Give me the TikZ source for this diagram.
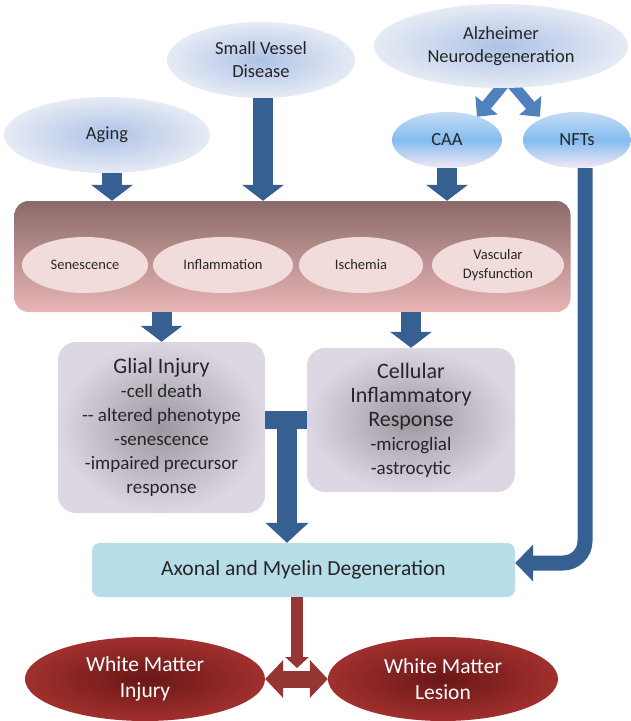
\documentclass[tikz,border=0pt]{standalone}
\usepackage{fontspec}
\setmainfont{Carlito}
\usetikzlibrary{arrows.meta,shapes.geometric}
\definecolor{arrowblue}{HTML}{376092}
\definecolor{chev}{HTML}{4F81BD}
\definecolor{topin}{HTML}{AEC2E6}
\definecolor{topout}{HTML}{E6EBF5}
\definecolor{capt}{HTML}{C5DCF5}
\definecolor{capm}{HTML}{84BCF0}
\definecolor{capb}{HTML}{F3E8F5}
\definecolor{proctop}{HTML}{8C6A6A}
\definecolor{procbot}{HTML}{E8B5B5}
\definecolor{pinkell}{HTML}{F2DCDB}
\definecolor{glin}{HTML}{9C96A0}
\definecolor{glout}{HTML}{DCD7E3}
\definecolor{axfill}{HTML}{B7DDE8}
\definecolor{wmred}{HTML}{963634}
\definecolor{wmin}{HTML}{6A1717}
\definecolor{wmout}{HTML}{A0302D}
\definecolor{textgray}{HTML}{262626}
\pgfdeclarelayer{bg}
\pgfsetlayers{bg,main}
\begin{document}
\begin{tikzpicture}[x=1pt,y=-1pt,
  topell/.style={ellipse, inner sep=0pt, inner color=topin, outer color=topout, text=textgray, align=center, font=\fontsize{18.5}{23}\selectfont},
  smallell/.style={ellipse, inner sep=0pt, top color=capt, bottom color=capb, middle color=capm, text=textgray, font=\fontsize{18.5}{23}\selectfont},
  procbox/.style={rectangle, rounded corners=14pt, top color=proctop, bottom color=procbot, inner sep=0pt},
  pinkellipse/.style={ellipse, inner sep=0pt, fill=pinkell, minimum height=56pt, text=textgray, align=center, font=\fontsize{14.5}{19}\selectfont},
  glbox/.style={rectangle, rounded corners=18pt, inner color=glin, outer color=glout, inner sep=0pt, text=textgray, align=center, font=\fontsize{19}{24}\selectfont},
  axbox/.style={rectangle, rounded corners=8pt, fill=axfill, inner sep=0pt, text=textgray, font=\fontsize{21.5}{26}\selectfont},
  wmell/.style={ellipse, inner sep=0pt, inner color=wmin, outer color=wmout, text=white, align=center, font=\fontsize{21.5}{26}\selectfont},
  barrow/.style={draw=arrowblue, line width=20pt, -{Triangle[width=41pt,length=16pt]}},
  rarrow/.style={draw=wmred, line width=12pt, -{Triangle[width=23pt,length=11pt]}}
]
\useasboundingbox (0,0) rectangle (630,721);

% top ellipses
\node[topell, minimum width=206pt, minimum height=76pt] (aging) at (107,135) {Aging};
\node[topell, minimum width=188pt, minimum height=76pt] (svd) at (261,60) {Small Vessel\\Disease};
\node[topell, minimum width=254pt, minimum height=84pt] (alz) at (501,46) {Alzheimer\\Neurodegeneration};
\node[smallell, minimum width=110pt, minimum height=56pt] (caa) at (447,140) {CAA};
\node[smallell, minimum width=108pt, minimum height=56pt] (nfts) at (577,140) {NFTs};

% process box
\node[procbox, minimum width=556pt, minimum height=111pt] (proc) at (292.5,256.5) {};
\node[pinkellipse, minimum width=126pt] (sen) at (85,265) {Senescence};
\node[pinkellipse, minimum width=140pt] (infl) at (223,265) {Inflammation};
\node[pinkellipse, minimum width=124pt] (isch) at (361,265) {Ischemia};
\node[pinkellipse, minimum width=132pt] (vasc) at (498,265) {Vascular\\Dysfunction};

% glial and cellular boxes
\node[glbox, minimum width=207pt, minimum height=171pt] (glial) at (161.5,427.5)
  {{\fontsize{22}{24}\selectfont Glial Injury}\\-cell death\\-{}- altered phenotype\\-senescence\\-impaired precursor\\response};
\node[glbox, minimum width=208pt, minimum height=144pt] (cell) at (411,420)
  {{\fontsize{22}{25}\selectfont Cellular}\\{\fontsize{22}{25}\selectfont Inflammatory}\\{\fontsize{22}{25}\selectfont Response}\\-microglial\\-astrocytic};

% axonal box
\node[axbox, minimum width=423pt, minimum height=54pt] (axon) at (303.5,570) {Axonal and Myelin Degeneration};

% white matter ellipses
\node[wmell, minimum width=240pt, minimum height=84pt] (wmi) at (145,679) {White Matter\\Injury};
\node[wmell, minimum width=230pt, minimum height=84pt] (wml) at (443,679) {White Matter\\Lesion};

% chevron from Alzheimer to CAA and NFTs (apex behind the Alzheimer ellipse)
\begin{pgfonlayer}{bg}
\draw[draw=chev, line width=11pt, line join=miter,
  {Triangle[width=28pt,length=15pt]}-{Triangle[width=28pt,length=15pt]}]
  ([xshift=30pt,yshift=-5pt]caa.north) -- ([xshift=7pt,yshift=9pt]alz.south) -- ([xshift=-37pt,yshift=-5pt]nfts.north);
\end{pgfonlayer}

% blue arrows into process box
\draw[barrow] ([xshift=5pt]aging.south) -- ([xshift=5pt]aging.south |- proc.north);
\draw[barrow] ([xshift=2pt]svd.south) -- ([xshift=2pt]svd.south |- proc.north);
\draw[barrow] (caa.south) -- (caa.south |- proc.north);

% arrows out of process box
\draw[barrow] (glial.north |- proc.south) -- (glial.north);
\draw[barrow] (cell.north |- proc.south) -- (cell.north);

% T-shaped connector
\draw[draw=arrowblue, line width=18pt] (glial.east |- cell.west) -- (cell.west);
\coordinate (tj) at (287,411);
\draw[draw=arrowblue, line width=20pt, -{Triangle[width=42pt,length=20pt]}] (tj) -- (tj |- axon.north);

% NFTs to axonal box
\draw[draw=arrowblue, line width=15pt, rounded corners=22pt, -{Triangle[width=36pt,length=18pt]}]
  ([xshift=8pt]nfts.south) |- ([yshift=7pt]axon.east);

% red arrows
\draw[draw=wmred, line width=17pt, {Triangle[width=37pt,length=18pt]}-{Triangle[width=37pt,length=18pt]}] (wmi.east) -- (wml.west);
\coordinate (rd) at (297,668);
\draw[draw=white, line width=16pt, -{Triangle[width=29pt,length=14pt]}] (axon.south -| rd) -- ([yshift=-3pt]rd);
\draw[rarrow] (axon.south -| rd) -- (rd);
\end{tikzpicture}
\end{document}
